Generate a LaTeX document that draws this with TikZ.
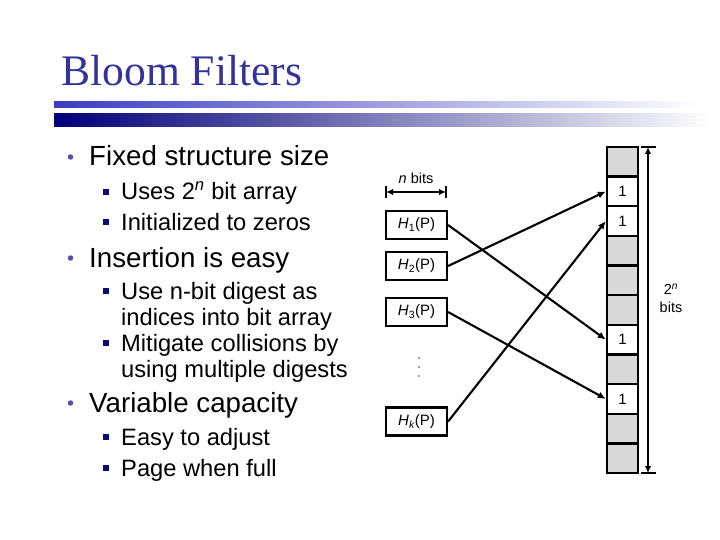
\documentclass[tikz,border=0pt]{standalone}
\usepackage{fontspec}
\setmainfont{Liberation Sans}
\newfontfamily\titlefont{Liberation Serif}
\usetikzlibrary{arrows.meta}
\definecolor{titleblue}{RGB}{51,51,153}
\definecolor{bulletblue}{RGB}{80,80,175}
\definecolor{subblue}{RGB}{10,10,120}
\definecolor{cellgray}{RGB}{217,217,217}
\definecolor{barone}{RGB}{60,60,195}
\definecolor{bartwo}{RGB}{0,0,120}
\definecolor{bartwomid}{RGB}{190,190,205}
\begin{document}
\begin{tikzpicture}[x=1pt,y=-1pt,
  lvlone/.style={anchor=base west, inner sep=0pt, font=\fontsize{27.7}{33}\selectfont},
  lvltwo/.style={anchor=base west, inner sep=0pt, font=\fontsize{23.7}{28}\selectfont},
  mainbullet/.style={circle, fill=bulletblue, inner sep=0pt, minimum size=5.5pt},
  subbullet/.style={rectangle, fill=subblue, inner sep=0pt, minimum size=6pt},
  hbox/.style={draw, line width=2.2pt, minimum width=61pt, minimum height=28pt, inner sep=0pt, font=\fontsize{15}{18}\selectfont},
  cell/.style={draw, line width=2.4pt, minimum width=31pt, minimum height=29.64pt, inner sep=0pt, font=\fontsize{15}{18}\selectfont},
  conn/.style={line width=2.1pt, -{Latex[length=8pt,width=7pt]}},
  dimline/.style={line width=2.1pt},
  dimarrow/.style={line width=2.1pt, {Latex[length=7pt,width=6.5pt]}-{Latex[length=7pt,width=6.5pt]}},
  smalltext/.style={inner sep=0pt, font=\fontsize{14.5}{18}\selectfont},
  dotmark/.style={circle, fill=black!75, inner sep=0pt, minimum size=1.8pt}
]
\useasboundingbox (0,0) rectangle (720,540);

% title
\node[anchor=base west, inner sep=0pt, text=titleblue, font=\titlefont\fontsize{43.6}{50}\selectfont] (title) at (61,86) {Bloom Filters};
\shade[left color=barone, right color=white] (54,102) rectangle (700,108);
\shade[left color=bartwo, middle color=bartwomid, right color=white] (54,114) rectangle (712,127);

% bullet text
\node[lvlone] (t1) at (89,166) {Fixed structure size};
\node[lvltwo] (t2) at (121,200) {Uses 2\textsuperscript{\itshape n} bit array};
\node[lvltwo] (t3) at (121,230) {Initialized to zeros};
\node[lvlone] (t4) at (89,267) {Insertion is easy};
\node[lvltwo] (t5) at (121,299) {Use n-bit digest as};
\node[lvltwo] (t6) at (121,325) {indices into bit array};
\node[lvltwo] (t7) at (121,351) {Mitigate collisions by};
\node[lvltwo] (t8) at (121,377) {using multiple digests};
\node[lvlone] (t9) at (89,412) {Variable capacity};
\node[lvltwo] (t10) at (121,445) {Easy to adjust};
\node[lvltwo] (t11) at (121,476) {Page when full};

\node[mainbullet] (b1) at (70.5,157) {};
\node[mainbullet] (b4) at (70.5,258) {};
\node[mainbullet] (b9) at (70.5,403) {};
\node[subbullet] (b2) at (105.5,192) {};
\node[subbullet] (b3) at (105.5,222) {};
\node[subbullet] (b5) at (105.5,291) {};
\node[subbullet] (b7) at (105.5,343) {};
\node[subbullet] (b10) at (105.5,437) {};
\node[subbullet] (b11) at (105.5,468) {};

% n bits dimension
\coordinate (nl) at (386,192);
\coordinate (nr) at (446,192);
\draw[dimline] (386,186) -- (386,198);
\draw[dimline] (446,186) -- (446,198);
\draw[dimarrow] (nl) -- (nr);
\node[smalltext] (nbits) at (416,178) {{\itshape n} bits};

% hash boxes
\node[hbox] (h1) at (416.5,225) {{\itshape H}\textsubscript{1}(P)};
\node[hbox] (h2) at (416.5,266) {{\itshape H}\textsubscript{2}(P)};
\node[hbox] (h3) at (416.5,312) {{\itshape H}\textsubscript{3}(P)};
\node[hbox] (hk) at (416.5,421.5) {{\itshape H}\textsubscript{\itshape k}(P)};
\node[dotmark] (d1) at (419,358) {};
\node[dotmark] (d2) at (419,367) {};
\node[dotmark] (d3) at (419,376) {};

% bit array
\foreach \i/\f/\t in {1/cellgray/,2/white/1,3/white/1,4/cellgray/,5/cellgray/,6/cellgray/,7/white/1,8/cellgray/,9/white/1,10/cellgray/,11/cellgray/}{
  \node[cell, fill=\f] (c\i) at (622.5,{147+(\i-0.5)*29.636}) {\t};
}

% array dimension
\coordinate (at) at (648,147);
\coordinate (ab) at (648,473);
\draw[dimline] (641,147) -- (656,147);
\draw[dimline] (641,473) -- (656,473);
\draw[dimarrow] (at) -- (ab);
\node[smalltext, align=center] (twon) at (671,298) {2\textsuperscript{\itshape n}\\bits};

% connectors
\draw[conn] (h1.east) -- (c7.west);
\draw[conn] (h2.east) -- (c2.west);
\draw[conn] (h3.east) -- (c9.west);
\draw[conn] (hk.east) -- (c3.west);
\end{tikzpicture}
\end{document}
